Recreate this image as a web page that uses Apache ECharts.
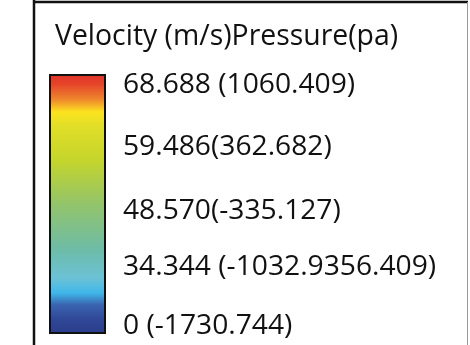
<!DOCTYPE html>
<html>
<head>
<meta charset="utf-8">
<script src="https://cdn.jsdelivr.net/npm/echarts@6/dist/echarts.min.js"></script>
<style>html,body{margin:0;padding:0;background:#fff;}#c{width:470px;height:345px;}</style>
</head>
<body>
<div id="c"></div>
<script>
// ---- data ----
const titleText = 'Velocity (m/s)Pressure(pa)';
const tickLabels = ['68.688 (1060.409)', '59.486(362.682)', '48.570(-335.127)', '34.344 (-1032.9356.409)', '0 (-1730.744)'];
const labelStops = [0.958, 0.72, 0.475, 0.258, 0.03]; // relative positions along the bar (0 = bottom)
const colorOffsets = [0, 0.04, 0.10, 0.146, 0.196, 0.33, 0.50, 0.677, 0.785, 0.842, 0.888, 0.946, 1];
const colorValues = ['#e0322a', '#e5452a', '#ef8a2c', '#fde31f', '#e2df28', '#c5d52b', '#93c46a', '#6dbca8', '#6cc2d6', '#3fb7ea', '#3a64b0', '#2f4696', '#2b3d8c'];
const barValue = [1];

const FONT = 'Open Sans';
const chart = echarts.init(document.getElementById('c'), null, {renderer: 'canvas'});
chart.setOption({
  animation: false,
  backgroundColor: '#fff',
  title: {
    text: titleText, left: 50, top: 18,
    textStyle: {fontFamily: FONT, fontSize: 28.4, fontWeight: 'normal', color: '#111'}
  },
  grid: {left: 49, top: 74, width: 57, height: 260, containLabel: false},
  xAxis: {type: 'category', data: ['bar'], show: false},
  yAxis: {
    type: 'value', min: 0, max: 1, position: 'right',
    axisLine: {show: false}, axisTick: {show: false}, splitLine: {show: false},
    axisLabel: {
      customValues: labelStops, margin: 17,
      fontFamily: FONT, fontSize: 28.2, color: '#111',
      formatter: function (v) { const i = labelStops.indexOf(v); return i >= 0 ? tickLabels[i] : ''; }
    }
  },
  series: [{
    type: 'bar', data: barValue, barWidth: '100%',
    itemStyle: {
      borderColor: '#111', borderWidth: 2,
      color: new echarts.graphic.LinearGradient(0, 0, 0, 1,
        colorOffsets.map((o, i) => ({offset: o, color: colorValues[i]})))
    }
  }],
  graphic: [
    {type: 'line', shape: {x1: 34, y1: 0, x2: 34, y2: 345}, style: {stroke: '#111', lineWidth: 2.5}},
    {type: 'line', shape: {x1: 33, y1: 2, x2: 468, y2: 2}, style: {stroke: '#111', lineWidth: 2.5}},
    {type: 'line', shape: {x1: 467.5, y1: 2, x2: 467.5, y2: 345}, style: {stroke: '#999', lineWidth: 1}}
  ]
});
</script>
</body>
</html>
